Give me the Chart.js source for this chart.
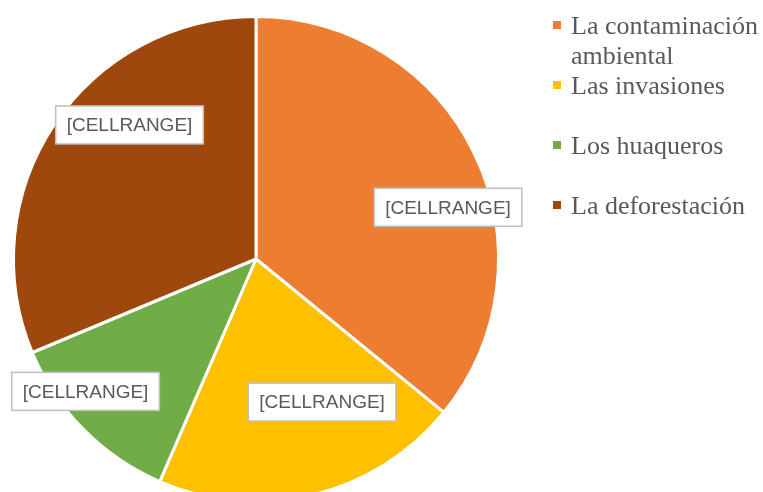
<!DOCTYPE html>
<html>
<head>
<meta charset="utf-8">
<script src="https://cdn.jsdelivr.net/npm/chart.js@4.4.0/dist/chart.umd.min.js"></script>
<style>
	html, body { margin: 0; padding: 0; background: #fff; overflow: hidden; }
	#wrap { position: absolute; left: 0; top: 0; width: 763px; height: 520px; }
	#legend { position: absolute; left: 553px; top: 11px; width: 210px; margin: 0; padding: 0; list-style: none;
		font-family: "Liberation Serif", "Times New Roman", serif; font-size: 26px; line-height: 30px; color: #595959; }
	#legend li { position: relative; min-height: 60px; padding-left: 18px; }
	#legend .box { position: absolute; left: 0; top: 10px; width: 8px; height: 8px; }
</style>
</head>
<body>
<div id="wrap"><canvas id="pie" width="763" height="520"></canvas></div>
<ul id="legend"></ul>
<script>
const categories = ['La contaminación ambiental', 'Las invasiones', 'Los huaqueros', 'La deforestación'];
const values = [35.9, 20.6, 12.2, 31.3];
const labelTexts = ['[CELLRANGE]', '[CELLRANGE]', '[CELLRANGE]', '[CELLRANGE]'];

const colors = ['#ED7D31', '#FFC000', '#70AD47', '#9E480E'];
// posicion de las etiquetas: desplazamiento angular (grados) y fraccion del radio
const labelShift = [10.3, -11.1, 6.8, 13];
const labelRadius = [0.82, 0.65, 0.89, 0.76];

// Etiquetas con caja blanca, estilo Excel
const boxLabels = {
	id: 'boxLabels',
	afterDatasetsDraw(chart) {
		const ctx = chart.ctx;
		const arcs = chart.getDatasetMeta(0).data;
		ctx.save();
		ctx.font = '19px "Liberation Sans", Arial, sans-serif';
		ctx.textAlign = 'center';
		ctx.textBaseline = 'middle';
		arcs.forEach((arc, i) => {
			const p = arc.getProps(['x', 'y', 'startAngle', 'endAngle', 'outerRadius'], true);
			const mid = (p.startAngle + p.endAngle) / 2 + labelShift[i] * Math.PI / 180;
			const r = p.outerRadius * labelRadius[i];
			const x = p.x + Math.cos(mid) * r;
			const y = p.y + Math.sin(mid) * r;
			const w = ctx.measureText(labelTexts[i]).width + 22;
			const h = 38;
			ctx.fillStyle = '#fff';
			ctx.fillRect(x - w / 2, y - h / 2, w, h);
			ctx.strokeStyle = '#BFBFBF';
			ctx.lineWidth = 1.5;
			ctx.strokeRect(x - w / 2, y - h / 2, w, h);
			ctx.fillStyle = '#595959';
			ctx.fillText(labelTexts[i], x, y + 1);
		});
		ctx.restore();
	}
};

const chart = new Chart(document.getElementById('pie'), {
	type: 'pie',
	data: {
		labels: categories,
		datasets: [{
			data: values,
			backgroundColor: colors,
			borderColor: '#fff',
			borderWidth: 3
		}]
	},
	options: {
		responsive: false,
		animation: false,
		layout: { padding: { left: 12, right: 263, top: 15, bottom: 17 } },
		plugins: {
			legend: { display: false },
			tooltip: { enabled: false }
		}
	},
	plugins: [boxLabels]
});

// Leyenda a la derecha
const legend = document.getElementById('legend');
categories.forEach((name, i) => {
	const li = document.createElement('li');
	li.innerHTML = `<span class="box" style="background:${colors[i]}"></span>${name}`;
	legend.appendChild(li);
});
</script>
</body>
</html>
